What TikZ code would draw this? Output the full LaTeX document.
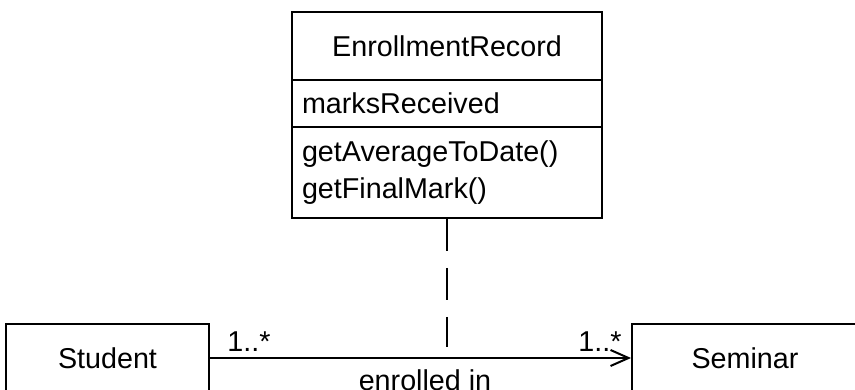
\documentclass[tikz,border=0pt]{standalone}
\usepackage{fontspec}
\setmainfont{Liberation Sans}
\usetikzlibrary{arrows.meta}
\begin{document}
\begin{tikzpicture}[x=1pt,y=-1pt,
  box/.style={draw, line width=2pt, inner sep=0pt, font=\fontsize{28.7}{37}\selectfont},
  comp/.style={box, align=left, text width=290pt, inner xsep=10pt, minimum width=310pt},
  lbl/.style={inner sep=0pt, anchor=base, font=\fontsize{28.7}{37}\selectfont}]
\useasboundingbox (0,0) rectangle (855,390);
\clip (0,0) rectangle (855,390);
\node[box, minimum width=310pt, minimum height=68pt] (title) at (447,46) {EnrollmentRecord};
\node[comp, minimum height=47pt] (attrs) at (447,103.5) {marksReceived};
\node[comp, minimum height=91pt] (ops) at (447,172.5) {getAverageToDate()\\getFinalMark()};
\node[box, minimum width=203pt, minimum height=68pt] (st) at (107.5,358) {Student};
\node[box, minimum width=226pt, minimum height=68pt] (sem) at (745,358) {Seminar};
\coordinate (dend) at (447,347);
\draw[line width=2pt, -{Straight Barb[length=18pt,width=16pt,line width=2pt]}] (st.east) -- (sem.west);
\draw[line width=2pt, dash pattern=on 32pt off 17pt] (ops.south) -- (dend);
\node[lbl] (m1) at (249,352) {1..*};
\node[lbl] (m2) at (600,352) {1..*};
\node[lbl] (assoc) at (425,391) {enrolled in};
\end{tikzpicture}
\end{document}
